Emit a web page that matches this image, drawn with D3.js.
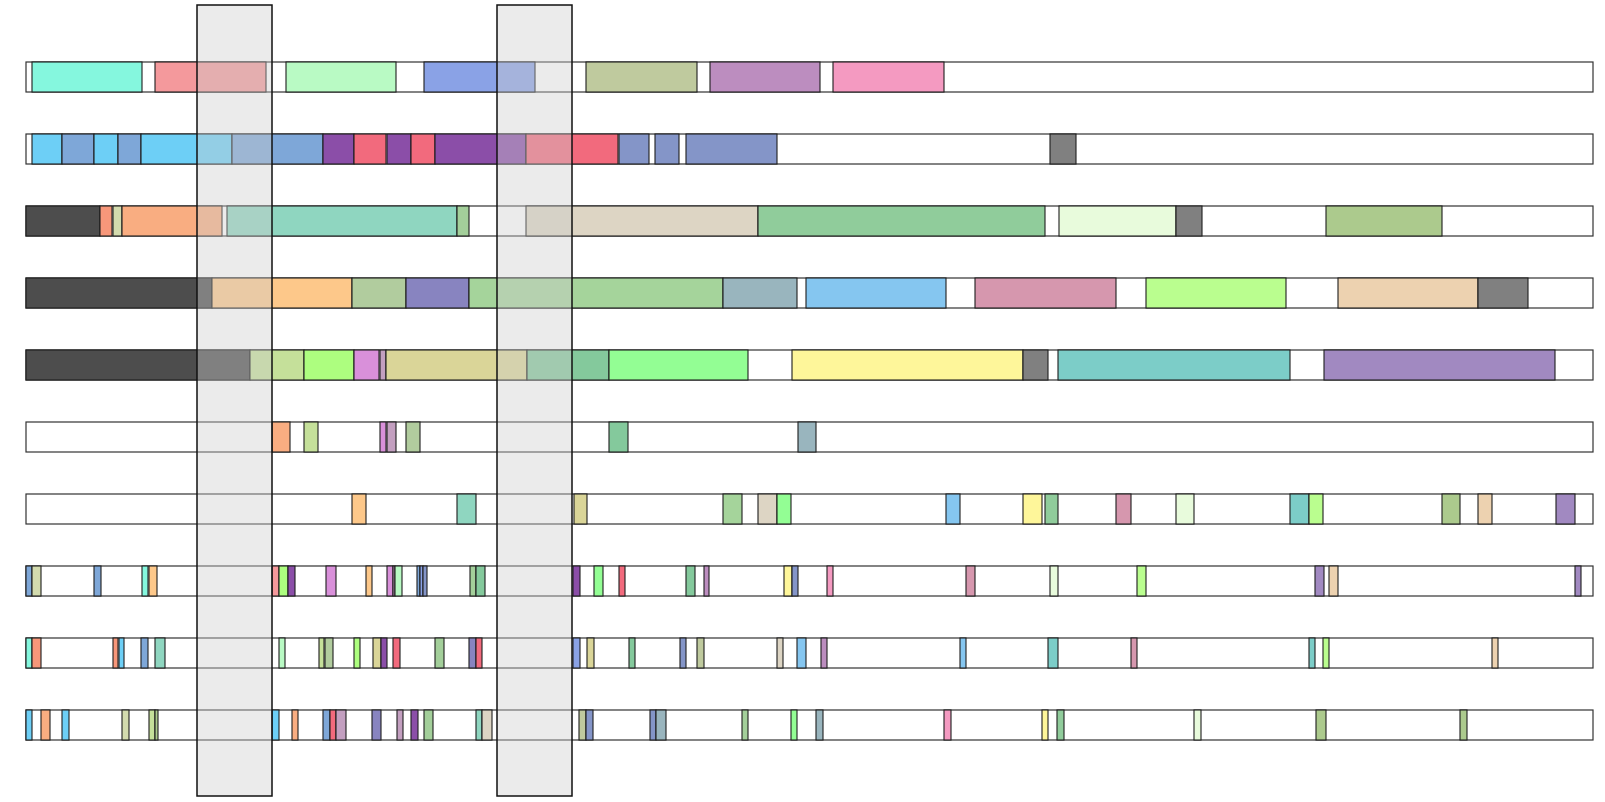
<!DOCTYPE html>
<html>
<head>
<meta charset="utf-8">
<script src="https://cdn.jsdelivr.net/npm/d3@7"></script>
<style>
  html, body { margin: 0; padding: 0; background: #ffffff; }
  svg { display: block; }
</style>
</head>
<body>
<div id="chart"></div>
<script>
// ---------- data ----------
const positionDomain = [0, 1567];
const trackNames = ["t1", "t2", "t3", "t4", "t5", "t6", "t7", "t8", "t9", "t10"];

const categories = ["aqua","pinkred","mint","periwinkle","olive","orchid2","pink","sky","steel","purple",
  "red","slate","gray","dark","salmon","paleolive","peach","teal","green1","beige",
  "green2","palegreen","green3","orange","sage","lavblue","green4","bluegray","lightblue","rose",
  "lime","tan","yellowgreen","brightgreen","orchid","mauve","khaki","seagreen","neon","yellow",
  "turq","violet"];
const categoryColors = ["#85f7de","#f4999c","#b9fac4","#8aa2e6","#bfca9e","#bc8dbf","#f49ac1","#6dcff6","#7ea7d8","#8b4ea8",
  "#f26a7d","#8495c8","#808080","#4d4d4d","#f7977a","#d3dbae","#f9ad81","#8fd6c0","#a3cf9a","#ddd5c4",
  "#90cc9b","#e8fbdc","#acca8d","#fdc88a","#b1cc9e","#8884c0","#a5d49b","#99b5be","#85c6f0","#d697ae",
  "#bafe8f","#edd2b0","#c5e09a","#adfe7f","#d990da","#c39fc0","#dad598","#84c99c","#93fe94","#fef69a",
  "#7ccdc8","#a189c1"];

const highlightStarts = [171, 471];
const highlightEnds   = [246, 546];

// segments: [start, end, category]
const track1 = [[6,116,"aqua"],[129,240,"pinkred"],[260,370,"mint"],[398,509,"periwinkle"],
  [560,671,"olive"],[684,794,"orchid2"],[807,918,"pink"]];
const track2 = [[6,36,"sky"],[36,68,"steel"],[68,92,"sky"],[92,115,"steel"],[115,206,"sky"],
  [206,297,"steel"],[297,328,"purple"],[328,360,"red"],[361,385,"purple"],[385,409,"red"],
  [409,500,"purple"],[500,592,"red"],[593,623,"slate"],[629,653,"slate"],[660,751,"slate"],
  [1024,1050,"gray"]];
const track3 = [[0,74,"dark"],[74,86,"salmon"],[87,96,"paleolive"],[96,196,"peach"],[201,431,"teal"],
  [431,443,"green1"],[500,732,"beige"],[732,1019,"green2"],[1033,1150,"palegreen"],[1150,1176,"gray"],
  [1300,1416,"green3"]];
const track4 = [[0,186,"dark"],[186,326,"orange"],[326,380,"sage"],[380,443,"lavblue"],[443,697,"green4"],
  [697,771,"bluegray"],[780,920,"lightblue"],[949,1090,"rose"],[1120,1260,"lime"],[1312,1452,"tan"],
  [1452,1502,"gray"]];
const track5 = [[0,224,"dark"],[224,278,"yellowgreen"],[278,328,"brightgreen"],[328,353,"orchid"],
  [354,360,"mauve"],[360,501,"khaki"],[501,583,"seagreen"],[583,722,"neon"],[766,997,"yellow"],
  [997,1022,"gray"],[1032,1264,"turq"],[1298,1529,"violet"]];
const track6 = [[246,264,"peach"],[278,292,"yellowgreen"],[354,360,"orchid"],[361,370,"mauve"],
  [380,394,"sage"],[583,602,"seagreen"],[772,790,"bluegray"]];
const track7 = [[326,340,"orange"],[431,450,"teal"],[548,561,"khaki"],[697,716,"green4"],[732,751,"beige"],
  [751,765,"neon"],[920,934,"lightblue"],[997,1016,"yellow"],[1019,1032,"green2"],[1090,1105,"rose"],
  [1150,1168,"palegreen"],[1264,1283,"turq"],[1283,1297,"lime"],[1416,1434,"green3"],[1452,1466,"tan"],
  [1530,1549,"violet"]];
const track8 = [[0,6,"steel"],[6,15,"paleolive"],[68,75,"steel"],[116,122,"aqua"],[123,131,"orange"],
  [246,253,"pinkred"],[253,262,"brightgreen"],[262,269,"purple"],[300,310,"orchid"],[340,346,"orange"],
  [361,367,"orchid"],[367,369,"mauve"],[369,376,"mint"],[391,394,"steel"],[394,397,"periwinkle"],
  [397,401,"slate"],[444,450,"green1"],[450,459,"seagreen"],[547,554,"purple"],[568,577,"neon"],
  [593,599,"red"],[660,669,"seagreen"],[678,683,"orchid2"],[758,766,"yellow"],[766,772,"slate"],
  [801,807,"pink"],[940,949,"rose"],[1024,1032,"palegreen"],[1111,1120,"lime"],[1289,1298,"violet"],
  [1303,1312,"tan"],[1549,1555,"violet"]];
const track9 = [[0,6,"aqua"],[6,15,"salmon"],[87,92,"salmon"],[93,98,"sky"],[115,122,"steel"],
  [129,139,"teal"],[253,259,"mint"],[293,298,"yellowgreen"],[299,307,"sage"],[328,334,"brightgreen"],
  [347,355,"khaki"],[355,361,"purple"],[367,374,"red"],[409,418,"green1"],[443,450,"lavblue"],
  [450,456,"red"],[547,554,"periwinkle"],[561,568,"khaki"],[603,609,"seagreen"],[654,660,"slate"],
  [671,678,"olive"],[751,757,"beige"],[771,780,"lightblue"],[795,801,"orchid2"],[934,940,"lightblue"],
  [1022,1032,"turq"],[1105,1111,"rose"],[1283,1289,"turq"],[1297,1303,"lime"],[1466,1472,"tan"]];
const track10 = [[0,6,"sky"],[15,24,"peach"],[36,43,"sky"],[96,103,"paleolive"],[123,129,"yellowgreen"],
  [129,132,"green3"],[246,253,"sky"],[266,272,"peach"],[297,304,"steel"],[304,310,"red"],
  [310,320,"mauve"],[346,355,"lavblue"],[371,377,"mauve"],[385,392,"purple"],[398,407,"green1"],
  [450,456,"teal"],[456,466,"beige"],[553,560,"olive"],[560,567,"slate"],[624,630,"slate"],
  [630,640,"bluegray"],[716,722,"green1"],[765,771,"neon"],[790,797,"bluegray"],[918,925,"pink"],
  [1016,1022,"yellow"],[1031,1038,"green2"],[1168,1175,"palegreen"],[1290,1300,"green3"],[1434,1441,"green3"]];

const tracks = [track1, track2, track3, track4, track5, track6, track7, track8, track9, track10];

// ---------- drawing ----------
const W = 1605, H = 802;
const svg = d3.select("#chart").append("svg").attr("width", W).attr("height", H);

const x = d3.scaleLinear().domain(positionDomain).range([26, 1593]);
const y = d3.scaleBand().domain(trackNames).range([62, 740]).paddingInner(0.5833).paddingOuter(0);
const color = d3.scaleOrdinal().domain(categories).range(categoryColors);

const rows = svg.append("g").selectAll("g.track")
  .data(tracks)
  .join("g")
  .attr("class", "track")
  .attr("transform", (d, i) => `translate(0,${y(trackNames[i])})`);

rows.append("rect")
  .attr("x", x(positionDomain[0]))
  .attr("width", x(positionDomain[1]) - x(positionDomain[0]))
  .attr("height", y.bandwidth())
  .attr("fill", "#ffffff")
  .attr("stroke", "#333333")
  .attr("stroke-width", 1.2);

rows.selectAll("rect.seg")
  .data(d => d)
  .join("rect")
  .attr("class", "seg")
  .attr("x", d => x(d[0]))
  .attr("width", d => Math.max(0.5, x(d[1]) - x(d[0])))
  .attr("height", y.bandwidth())
  .attr("fill", d => color(d[2]))
  .attr("stroke", "#1e1e1e")
  .attr("stroke-width", 1.1);

const highlights = highlightStarts.map((s, i) => [s, highlightEnds[i]]);
svg.append("g").selectAll("rect.hl")
  .data(highlights)
  .join("rect")
  .attr("class", "hl")
  .attr("x", d => x(d[0]))
  .attr("width", d => x(d[1]) - x(d[0]))
  .attr("y", 5)
  .attr("height", 791)
  .attr("fill", "#cdcdcd")
  .attr("fill-opacity", 0.4)
  .attr("stroke", "#111111")
  .attr("stroke-width", 1.5);
</script>
</body>
</html>
